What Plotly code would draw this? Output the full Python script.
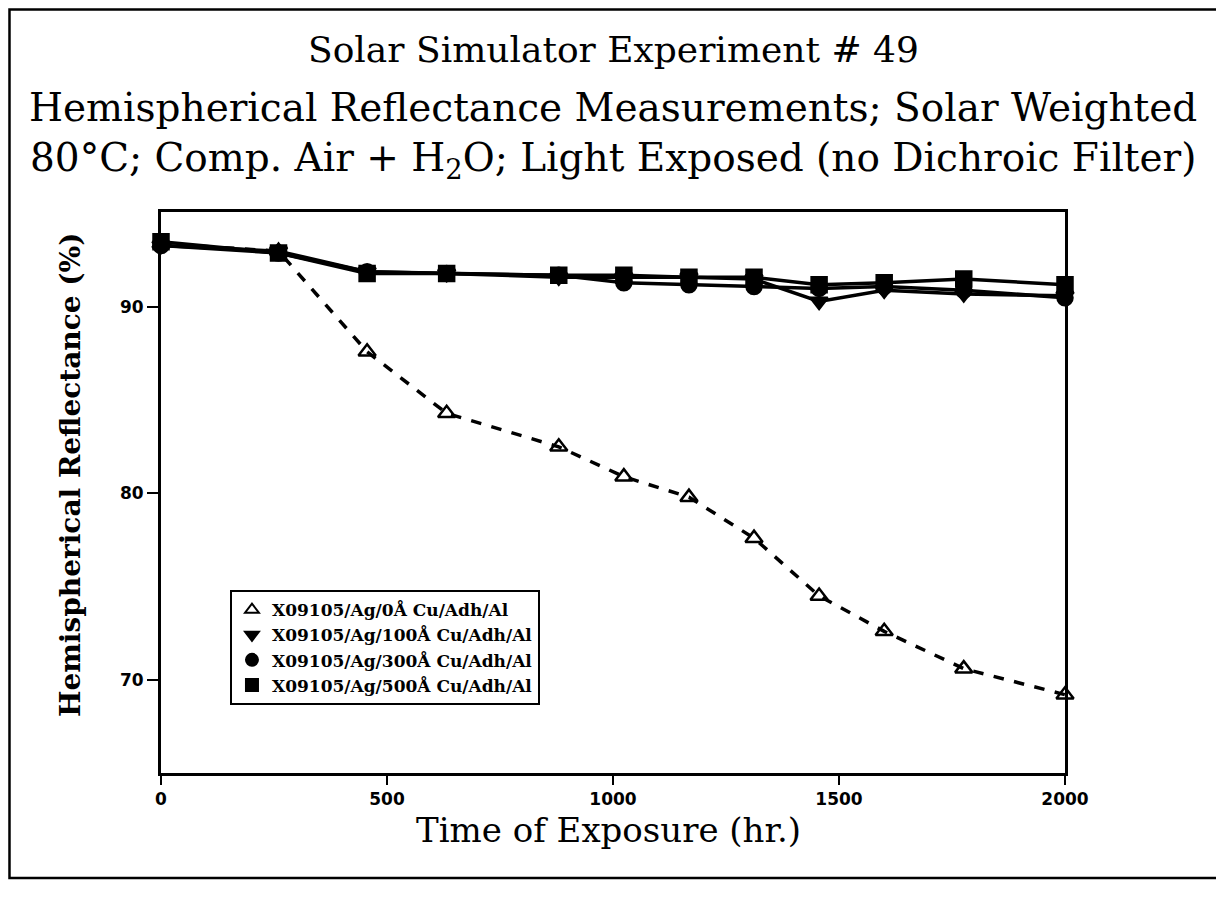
import plotly.graph_objects as go

# exposure times (hr.) and solar weighted hemispherical reflectance (%)
hours = [0, 260, 456, 632, 880, 1024, 1168, 1312, 1456, 1600, 1776, 2000]
cu_0 = [93.4, 93.0, 87.6, 84.3, 82.5, 80.9, 79.8, 77.6, 74.5, 72.6, 70.6, 69.2]
cu_100 = [93.3, 93.0, 91.9, 91.8, 91.6, 91.6, 91.6, 91.5, 90.3, 90.9, 90.7, 90.6]
cu_300 = [93.3, 92.9, 91.9, 91.8, 91.7, 91.3, 91.2, 91.1, 91.0, 91.1, 90.9, 90.5]
cu_500 = [93.5, 92.9, 91.8, 91.8, 91.7, 91.7, 91.6, 91.6, 91.2, 91.3, 91.5, 91.2]

names = ["X09105/Ag/0Å Cu/Adh/Al", "X09105/Ag/100Å Cu/Adh/Al",
         "X09105/Ag/300Å Cu/Adh/Al", "X09105/Ag/500Å Cu/Adh/Al"]
x_ticks = [0, 500, 1000, 1500, 2000]
y_ticks = [70, 80, 90]

series = [cu_0, cu_100, cu_300, cu_500]
symbols = ["triangle-up-open", "triangle-down", "circle", "square"]
dashes = ["dash", "solid", "solid", "solid"]

fig = go.Figure()

# lines first (no legend), then markers so the legend shows markers only
for ys, d in zip(series, dashes):
    fig.add_trace(go.Scatter(x=hours, y=ys, mode="lines", showlegend=False,
                             line=dict(color="black", width=3.5, dash=d),
                             cliponaxis=False, hoverinfo="skip"))
for ys, name, sym in zip(series, names, symbols):
    fig.add_trace(go.Scatter(x=hours, y=ys, mode="markers", name=name,
                             marker=dict(symbol=sym, size=15, color="black",
                                         line=dict(color="black", width=2.5)),
                             cliponaxis=False))

tick_font = dict(family="DejaVu Sans", size=17, color="black", weight="bold")

fig.update_layout(
    width=1224, height=902,
    paper_bgcolor="white", plot_bgcolor="white",
    margin=dict(l=153, r=167, t=204, b=137),
    showlegend=True,
    legend=dict(x=0.0763, y=0.326, xanchor="left", yanchor="top",
                bordercolor="black", borderwidth=2, bgcolor="white",
                font=dict(family="DejaVu Serif", size=17, color="black", weight="bold"),
                tracegroupgap=0, itemsizing="constant"),
    xaxis=dict(range=[0, 2000], tickvals=x_ticks, ticks="outside", ticklen=9,
               tickwidth=2, tickcolor="black", showline=True, linecolor="black",
               linewidth=3, mirror=True, showgrid=False, zeroline=False,
               tickfont=tick_font, ticklabelstandoff=0),
    yaxis=dict(range=[65.0, 95.1], tickvals=y_ticks, ticks="outside", ticklen=11,
               tickwidth=2, tickcolor="black", showline=True, linecolor="black",
               linewidth=3, mirror=True, showgrid=False, zeroline=False,
               tickfont=tick_font),
    # overlay axes give the inner half of the crossing ticks
    xaxis2=dict(overlaying="x", matches="x", anchor="y", side="bottom",
                tickvals=x_ticks, ticks="inside", ticklen=9, tickwidth=2,
                tickcolor="black", showticklabels=False, showgrid=False,
                zeroline=False, showline=False),
    yaxis2=dict(overlaying="y", matches="y", anchor="x", side="left",
                tickvals=y_ticks, ticks="inside", ticklen=11, tickwidth=2,
                tickcolor="black", showticklabels=False, showgrid=False,
                zeroline=False, showline=False),
)

serif = "DejaVu Serif"
titles = [
    ("Solar Simulator Experiment # 49", 1.289, 36),
    ("Hemispherical Reflectance Measurements; Solar Weighted", 1.187, 39),
    ("80°C; Comp. Air + H<sub>2</sub>O; Light Exposed (no Dichroic Filter)", 1.093, 39),
]
for text, yy, sz in titles:
    fig.add_annotation(text=text, x=0.5, y=yy, xref="paper", yref="paper",
                       showarrow=False, xanchor="center", yanchor="middle",
                       font=dict(family=serif, size=sz, color="black"))

# axis titles
fig.add_annotation(text="Time of Exposure (hr.)", x=0.4945, y=-0.102,
                   xref="paper", yref="paper", showarrow=False,
                   xanchor="center", yanchor="middle",
                   font=dict(family=serif, size=34, color="black"))
fig.add_annotation(text="Hemispherical Reflectance (%)", x=-0.1007, y=0.531,
                   xref="paper", yref="paper", showarrow=False, textangle=-90,
                   xanchor="center", yanchor="middle",
                   font=dict(family=serif, size=28, color="black", weight="bold"))

# outer page frame
fig.add_shape(type="rect", xref="paper", yref="paper",
              x0=-0.1676, x1=1.1715, y0=-0.1872, y1=1.361,
              line=dict(color="black", width=2.5))

fig.write_html("out.html")
